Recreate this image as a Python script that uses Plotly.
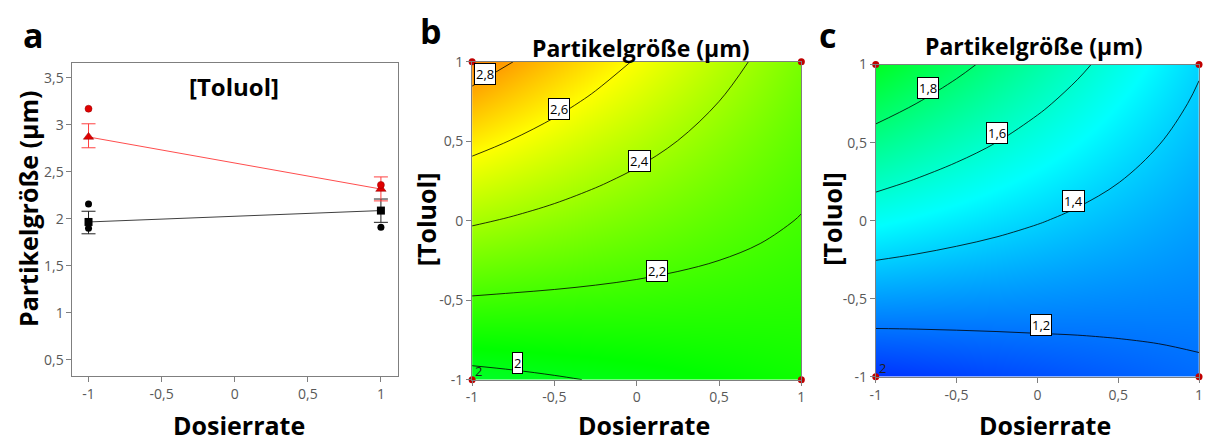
import plotly.graph_objects as go

W, H = 1207, 448

# ---------------- Data: panel a (interaction plot) ----------------
dos_levels = [-1, 1]
red_mean = [2.87, 2.316]
red_err_plus = [0.14, 0.129]
red_err_minus = [0.115, 0.126]
red_pts_x = [-1, 1]
red_pts_y = [3.17, 2.36]
blk_mean = [1.966, 2.087]
blk_err_plus = [0.114, 0.123]
blk_err_minus = [0.126, 0.125]
blk_pts_x = [-1, -1, 1]
blk_pts_y = [2.156, 1.90, 1.91]

# ---------------- Data: panels b, c (response surfaces) ----------------
grid = [-1, -0.75, -0.5, -0.25, 0, 0.25, 0.5, 0.75, 1]
# rows: Toluol = -1 ... 1 ; columns: Dosierrate = -1 ... 1
z_b = [
    [1.960, 1.975, 1.990, 2.005, 2.020, 2.035, 2.050, 2.065, 2.080],
    [2.074, 2.078, 2.083, 2.087, 2.091, 2.096, 2.100, 2.104, 2.109],
    [2.188, 2.181, 2.175, 2.169, 2.163, 2.156, 2.150, 2.144, 2.138],
    [2.301, 2.284, 2.268, 2.251, 2.234, 2.217, 2.200, 2.183, 2.166],
    [2.415, 2.388, 2.360, 2.333, 2.305, 2.278, 2.250, 2.223, 2.195],
    [2.529, 2.491, 2.453, 2.414, 2.376, 2.338, 2.300, 2.262, 2.224],
    [2.643, 2.594, 2.545, 2.496, 2.448, 2.399, 2.350, 2.301, 2.253],
    [2.756, 2.697, 2.638, 2.578, 2.519, 2.459, 2.400, 2.341, 2.281],
    [2.870, 2.800, 2.730, 2.660, 2.590, 2.520, 2.450, 2.380, 2.310],
]
z_c = [
    [1.058, 1.074, 1.089, 1.105, 1.120, 1.136, 1.151, 1.167, 1.182],
    [1.173, 1.177, 1.182, 1.187, 1.192, 1.196, 1.201, 1.206, 1.211],
    [1.287, 1.281, 1.275, 1.269, 1.263, 1.257, 1.251, 1.245, 1.240],
    [1.402, 1.385, 1.368, 1.352, 1.335, 1.318, 1.302, 1.285, 1.268],
    [1.516, 1.489, 1.461, 1.434, 1.407, 1.379, 1.352, 1.324, 1.297],
    [1.631, 1.592, 1.554, 1.516, 1.478, 1.440, 1.402, 1.364, 1.326],
    [1.745, 1.696, 1.647, 1.599, 1.550, 1.501, 1.452, 1.403, 1.355],
    [1.860, 1.800, 1.740, 1.681, 1.621, 1.562, 1.502, 1.443, 1.383],
    [1.974, 1.904, 1.834, 1.763, 1.693, 1.623, 1.553, 1.482, 1.412],
]
design_x = [-1, 1, -1, 1]
design_y = [-1, -1, 1, 1]

label_b_text = ["2,8", "2,6", "2,4", "2,2", "2"]
label_b_x = [-0.924, -0.474, 0.014, 0.125, -0.725]
label_b_y = [0.925, 0.70, 0.373, -0.315, -0.894]
label_c_text = ["1,8", "1,6", "1,4", "1,2"]
label_c_x = [-0.677, -0.25, 0.223, 0.025]
label_c_y = [0.851, 0.56, 0.125, -0.67]

ticks_pm1 = [-1, -0.5, 0, 0.5, 1]
ticks_pm1_text = ["-1", "-0,5", "0", "0,5", "1"]
ticks_a_y = [0.5, 1, 1.5, 2, 2.5, 3, 3.5]
ticks_a_y_text = ["0,5", "1", "1,5", "2", "2,5", "3", "3,5"]

FONT = "Open Sans"
GRAY = "#7f7f7f"
TICKC = "#595959"

colorscale = [[0.0, "rgb(0,0,255)"], [0.25, "rgb(0,255,255)"],
              [0.5, "rgb(0,255,0)"], [0.75, "rgb(255,255,0)"], [1.0, "rgb(255,0,0)"]]
ZMIN, ZMAX = 0.95, 3.15


def px(x):
    return x / W


def py(y):
    return 1 - y / H


fig = go.Figure()

# ---- panel a ----
fig.add_trace(go.Scatter(
    x=dos_levels, y=blk_mean, mode="lines+markers", xaxis="x", yaxis="y",
    line=dict(color="#404040", width=1),
    marker=dict(symbol="square", size=8, color="black"),
    error_y=dict(type="data", array=blk_err_plus, arrayminus=blk_err_minus,
                 color="#202020", thickness=1, width=7),
    cliponaxis=False, showlegend=False))
fig.add_trace(go.Scatter(
    x=dos_levels, y=red_mean, mode="lines+markers", xaxis="x", yaxis="y",
    line=dict(color="#ff4d4d", width=1),
    marker=dict(symbol="triangle-up", size=9, color="#e00000",
                line=dict(color="#900000", width=0.5)),
    error_y=dict(type="data", array=red_err_plus, arrayminus=red_err_minus,
                 color="#ff4040", thickness=1, width=7),
    cliponaxis=False, showlegend=False))
fig.add_trace(go.Scatter(
    x=blk_pts_x, y=blk_pts_y, mode="markers", xaxis="x", yaxis="y",
    marker=dict(symbol="circle", size=7, color="black"), showlegend=False))
fig.add_trace(go.Scatter(
    x=red_pts_x, y=red_pts_y, mode="markers", xaxis="x", yaxis="y",
    marker=dict(symbol="circle", size=7, color="#e00000",
                line=dict(color="#900000", width=0.5)), showlegend=False))

# ---- panel b ----
fig.add_trace(go.Heatmap(x=grid, y=grid, z=z_b, zsmooth="best", colorscale=colorscale,
                         zmin=ZMIN, zmax=ZMAX, showscale=False, xaxis="x2", yaxis="y2",
                         hoverinfo="skip"))
fig.add_trace(go.Contour(x=grid, y=grid, z=z_b, xaxis="x2", yaxis="y2",
                         contours=dict(start=2.0, end=2.8, size=0.2, coloring="lines"),
                         colorscale=[[0, "black"], [1, "black"]], showscale=False,
                         line=dict(width=0.8), hoverinfo="skip"))
fig.add_trace(go.Scatter(x=design_x, y=design_y, mode="markers", xaxis="x2", yaxis="y2",
                         marker=dict(size=7, color="#c00000"), cliponaxis=False,
                         showlegend=False))

# ---- panel c ----
fig.add_trace(go.Heatmap(x=grid, y=grid, z=z_c, zsmooth="best", colorscale=colorscale,
                         zmin=ZMIN, zmax=ZMAX, showscale=False, xaxis="x3", yaxis="y3",
                         hoverinfo="skip"))
fig.add_trace(go.Contour(x=grid, y=grid, z=z_c, xaxis="x3", yaxis="y3",
                         contours=dict(start=1.2, end=1.8, size=0.2, coloring="lines"),
                         colorscale=[[0, "black"], [1, "black"]], showscale=False,
                         line=dict(width=0.8), hoverinfo="skip"))
fig.add_trace(go.Scatter(x=design_x, y=design_y, mode="markers", xaxis="x3", yaxis="y3",
                         marker=dict(size=7, color="#c00000"), cliponaxis=False,
                         showlegend=False))

axis_common = dict(showgrid=False, zeroline=False, showline=True, linecolor=GRAY,
                   linewidth=1, mirror=True, ticks="outside", ticklen=5, tickcolor=GRAY,
                   tickfont=dict(family=FONT, size=14, color=TICKC))

fig.update_layout(
    width=W, height=H, margin=dict(l=0, r=0, t=0, b=0),
    paper_bgcolor="white", plot_bgcolor="white",
    xaxis=dict(domain=[px(67), px(395)], range=[-1.11, 1.115], anchor="y",
               tickvals=ticks_pm1, ticktext=ticks_pm1_text, **axis_common),
    yaxis=dict(domain=[py(382), py(55)], range=[0.33, 3.66], anchor="x",
               tickvals=ticks_a_y, ticktext=ticks_a_y_text, **axis_common),
    xaxis2=dict(domain=[px(470), px(802)], range=[-1, 1], anchor="y2",
                tickvals=ticks_pm1, ticktext=ticks_pm1_text, **axis_common),
    yaxis2=dict(domain=[py(386), py(54)], range=[-1, 1], anchor="x2",
                tickvals=ticks_pm1, ticktext=ticks_pm1_text, **axis_common),
    xaxis3=dict(domain=[px(877), px(1203)], range=[-1, 1], anchor="y3",
                tickvals=ticks_pm1, ticktext=ticks_pm1_text, **axis_common),
    yaxis3=dict(domain=[py(383), py(57)], range=[-1, 1], anchor="x3",
                tickvals=ticks_pm1, ticktext=ticks_pm1_text, **axis_common),
)

ann = []


def txt(x, y, text, size, rot=0, bold=True, color="black"):
    ann.append(dict(x=px(x), y=py(y), xref="paper", yref="paper", text=text,
                    showarrow=False, textangle=rot, xanchor="center", yanchor="middle",
                    font=dict(family=FONT, size=size, color=color,
                              weight="bold" if bold else "normal")))


txt(28, 26, "a", 34)
txt(429, 22, "b", 34)
txt(828, 26, "c", 34)
txt(230, 80, "[Toluol]", 24)
txt(22, 207, "Partikelgröße (µm)", 25, rot=-90)
txt(235, 433, "Dosierrate", 25)
txt(640, 40, "Partikelgröße (µm)", 23)
txt(423, 218, "[Toluol]", 25, rot=-90)
txt(643, 433, "Dosierrate", 25)
txt(1037, 38, "Partikelgröße (µm)", 23)
txt(833, 218, "[Toluol]", 25, rot=-90)
txt(1048, 433, "Dosierrate", 25)

for t, x, y in zip(label_b_text, label_b_x, label_b_y):
    ann.append(dict(x=x, y=y, xref="x2", yref="y2", text=t, showarrow=False,
                    bgcolor="white", bordercolor="black", borderwidth=1, borderpad=1,
                    font=dict(family=FONT, size=13, color="black")))
for t, x, y in zip(label_c_text, label_c_x, label_c_y):
    ann.append(dict(x=x, y=y, xref="x3", yref="y3", text=t, showarrow=False,
                    bgcolor="white", bordercolor="black", borderwidth=1, borderpad=1,
                    font=dict(family=FONT, size=13, color="black")))
# replicate counts at the design point (-1, -1)
ann.append(dict(x=-1, y=-1, xref="x2", yref="y2", text="2", showarrow=False,
                xanchor="left", yanchor="bottom", xshift=1, yshift=-2,
                font=dict(family=FONT, size=13, color="#202020")))
ann.append(dict(x=-1, y=-1, xref="x3", yref="y3", text="2", showarrow=False,
                xanchor="left", yanchor="bottom", xshift=1, yshift=-2,
                font=dict(family=FONT, size=13, color="#202020")))

fig.update_layout(annotations=ann)
fig.write_html("out.html")
